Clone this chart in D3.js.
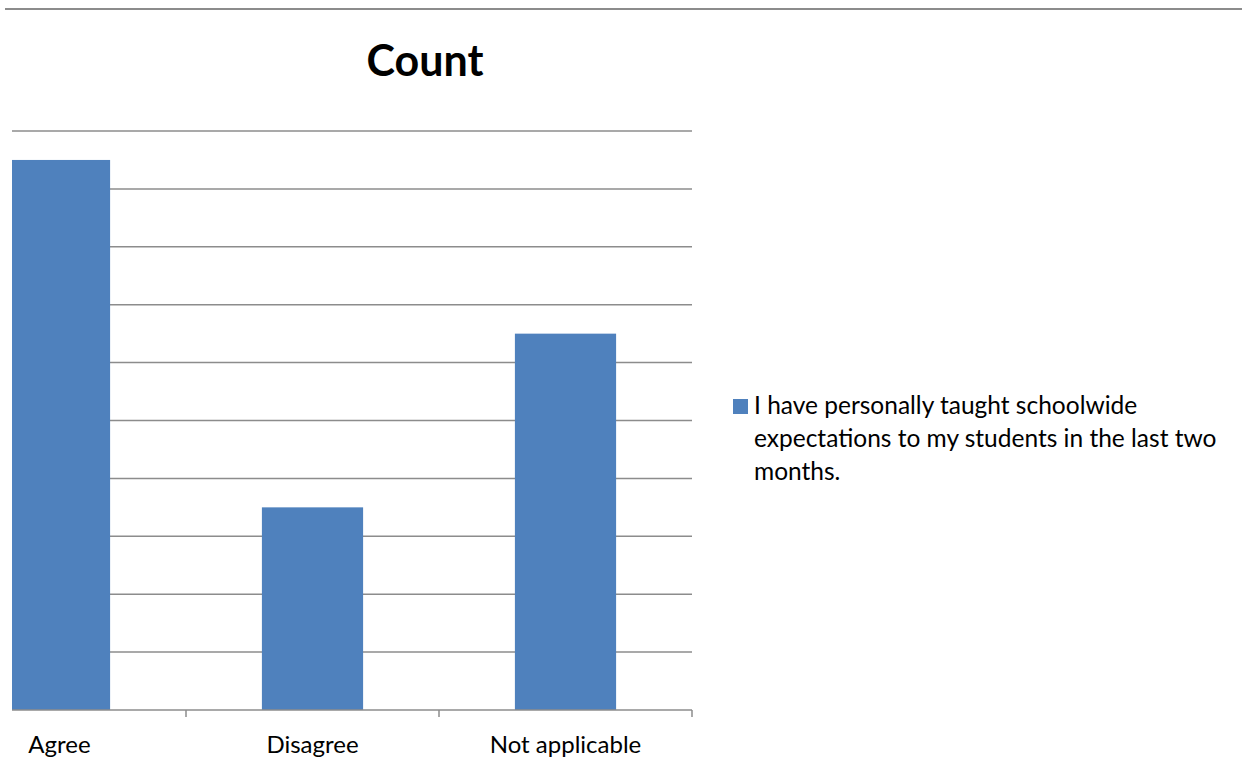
<!DOCTYPE html>
<html>
<head>
<meta charset="utf-8">
<script src="https://cdn.jsdelivr.net/npm/d3@7"></script>
<style>
  body { margin: 0; background: #fff; }
  svg { display: block; font-family: Lato, "Open Sans", sans-serif; }
</style>
</head>
<body>
<svg id="drawing_region"></svg>
<script>
const categories = ["Agree", "Disagree", "Not applicable"];
const counts = [19, 7, 13];
const yTicks = [0, 2, 4, 6, 8, 10, 12, 14, 16, 18, 20];
const seriesName = "I have personally taught schoolwide expectations to my students in the last two months.";
const legendLines = ["I have personally taught schoolwide", "expectations to my students in the last two", "months."];

const width = 1242, height = 775;
const plot = { left: 12, right: 692, top: 131, bottom: 710 };
const barColor = "#4f81bd";
const gridColor = "#8c8c8c";

const svg = d3.select("#drawing_region")
    .attr("width", width)
    .attr("height", height);

// frame line across the top
svg.append("line")
    .attr("x1", 5).attr("x2", width)
    .attr("y1", 9).attr("y2", 9)
    .attr("stroke", "#8c8c8c")
    .attr("stroke-width", 2);

// the category axis starts left of the visible area, so it is clipped
const xscale = d3.scaleBand()
    .domain(categories)
    .range([-67, plot.right])
    .paddingInner(0.6)
    .paddingOuter(0.3);

const yscale = d3.scaleLinear()
    .domain([0, 20])
    .range([plot.bottom, plot.top]);

svg.append("clipPath").attr("id", "clip")
    .append("rect")
    .attr("x", plot.left).attr("y", 0)
    .attr("width", plot.right - plot.left + 2).attr("height", height);

const chart = svg.append("g").attr("clip-path", "url(#clip)");

chart.selectAll("line.grid")
    .data(yTicks.filter(d => d > 0))
    .enter()
    .append("line")
    .attr("class", "grid")
    .attr("x1", plot.left).attr("x2", plot.right)
    .attr("y1", d => yscale(d)).attr("y2", d => yscale(d))
    .attr("stroke", gridColor)
    .attr("stroke-width", 1.5);

chart.selectAll("rect.bar")
    .data(categories)
    .enter()
    .append("rect")
    .attr("class", "bar")
    .attr("x", d => xscale(d))
    .attr("y", (d, i) => yscale(counts[i]))
    .attr("width", xscale.bandwidth())
    .attr("height", (d, i) => yscale(0) - yscale(counts[i]))
    .attr("fill", barColor);

// baseline and ticks between categories
chart.append("line")
    .attr("x1", plot.left).attr("x2", plot.right)
    .attr("y1", yscale(0)).attr("y2", yscale(0))
    .attr("stroke", gridColor)
    .attr("stroke-width", 1.5);

const step = xscale.step();
chart.selectAll("line.tick")
    .data(categories)
    .enter()
    .append("line")
    .attr("class", "tick")
    .attr("x1", d => xscale(d) + xscale.bandwidth() / 2 + step / 2)
    .attr("x2", d => xscale(d) + xscale.bandwidth() / 2 + step / 2)
    .attr("y1", yscale(0)).attr("y2", yscale(0) + 7)
    .attr("stroke", gridColor)
    .attr("stroke-width", 1.5);

svg.selectAll("text.cat")
    .data(categories)
    .enter()
    .append("text")
    .attr("class", "cat")
    .attr("x", d => xscale(d) + xscale.bandwidth() / 2)
    .attr("y", 753)
    .attr("text-anchor", "middle")
    .attr("font-size", "24px")
    .attr("fill", "#000")
    .text(d => d);

svg.append("text")
    .attr("x", 425)
    .attr("y", 76)
    .attr("text-anchor", "middle")
    .attr("font-size", "43px")
    .attr("font-weight", "bold")
    .attr("fill", "#000")
    .text("Count");

// legend
const legend = svg.append("g").attr("transform", "translate(733, 399)");
legend.append("rect")
    .attr("width", 15).attr("height", 15)
    .attr("fill", barColor);
legend.append("title").text(seriesName);
legend.selectAll("text")
    .data(legendLines)
    .enter()
    .append("text")
    .attr("x", 21)
    .attr("y", (d, i) => 15 + i * 33)
    .attr("font-size", "24.5px")
    .attr("fill", "#000")
    .text(d => d);
</script>
</body>
</html>
